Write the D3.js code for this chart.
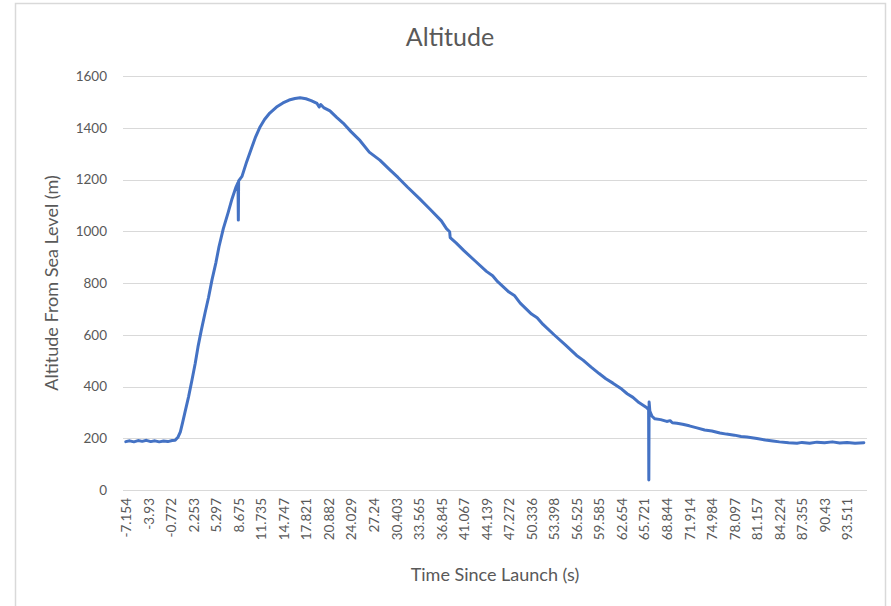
<!DOCTYPE html>
<html>
<head>
<meta charset="utf-8">
<script src="https://cdn.jsdelivr.net/npm/d3@7"></script>
<style>
  html, body { margin: 0; padding: 0; background: #ffffff; }
  svg { display: block; }
</style>
</head>
<body>
<svg id="chart" width="891" height="606"></svg>
<script>
// ---- Data ----
const tickLabels = ["-7.154","-3.93","-0.772","2.253","5.297","8.675","11.735","14.747","17.821","20.882","24.029","27.24","30.403","33.565","36.845","41.067","44.139","47.272","50.336","53.398","56.525","59.585","62.654","65.721","68.844","71.914","74.984","78.097","81.157","84.224","87.355","90.43","93.511"];
const yTicks = [0, 200, 400, 600, 800, 1000, 1200, 1400, 1600];

const timeSec = [
  -7.154, -6.6, -6.0, -5.4, -4.8, -4.2, -3.6, -3.0, -2.4, -1.8, -1.2, -0.6, -0.2,
  0.2, 0.5, 0.8, 1.1, 1.6, 2.06, 2.5, 2.87, 3.3, 3.82, 4.3, 4.76, 5.3, 5.75, 6.4, 7.1, 7.7, 8.3,
  8.6, 8.65, 8.69, 9.15, 9.8, 10.5, 11.0, 11.6, 12.2, 12.9, 13.8, 14.66, 15.5, 16.3, 17.0, 17.8,
  18.5, 19.3, 19.6, 19.8, 20.2, 21.06, 22.0, 22.9, 24.0, 25.3, 26.6, 28.1, 29.4, 30.64, 32.0,
  33.7, 35.2, 36.845, 37.8, 38.4, 38.5, 39.6, 41.067, 42.6, 44.139, 45.0, 45.7, 47.272, 48.0, 48.8, 50.336,
  51.1, 51.9, 53.398, 55.0, 56.525, 57.4, 58.5, 59.585, 60.5, 61.46, 62.654, 63.4, 64.19, 65.0, 65.721,
  66.09, 66.33, 66.36, 66.40, 66.5, 66.8, 67.2, 68.0, 68.844, 69.3, 69.6, 70.23, 71.0, 71.914, 72.95,
  74.0, 74.984, 76.1, 77.0, 78.097, 79.0, 79.8, 81.157, 82.3, 83.33, 84.224, 85.5, 86.66, 87.355,
  88.4, 89.4, 90.43, 91.5, 92.5, 93.511, 94.6, 95.8
];
const altitudeM = [
  187, 190, 186, 191, 188, 192, 187, 190, 186, 189, 187, 191, 192,
  205, 225, 260, 298, 360, 425, 490, 553, 615, 684, 745, 812, 880, 940, 1010, 1070, 1125, 1171,
  1188, 1043, 1195, 1212, 1270, 1326, 1365, 1403, 1432, 1457, 1480, 1496, 1507, 1513, 1516, 1512,
  1505, 1494, 1480, 1490, 1478, 1465, 1440, 1418, 1385, 1350, 1306, 1275, 1240, 1208, 1170,
  1125, 1085, 1040, 1010, 998, 975, 955, 925, 885, 845, 828, 805, 765, 752, 722, 680,
  666, 640, 600, 560, 520, 502, 475, 450, 430, 413, 390, 372, 358, 338, 325,
  318, 310, 39, 340, 305, 285, 275, 272, 265, 268, 260, 258, 254, 248, 240,
  232, 228, 220, 216, 212, 207, 205, 199, 193, 189, 186, 183, 181, 184,
  181, 185, 183, 186, 182, 184, 181, 183
];

// ---- Layout ----
const svg = d3.select("#chart");
const plotLeft = 123, plotRight = 867, plotTop = 76, plotBottom = 490;
const firstTickX = 125.8, tickStep = 22.54;
const font = "Lato, 'Open Sans', 'Liberation Sans', sans-serif";
const textColor = "#595959";

// outer frame
svg.append("rect")
  .attr("x", 15.5).attr("y", 3.5)
  .attr("width", 870).attr("height", 620)
  .attr("fill", "#ffffff")
  .attr("stroke", "#d9d9d9").attr("stroke-width", 1.5);

const tickTimes = tickLabels.map(Number);
// Category-style axis: evenly spaced labels, piecewise linear in time between them
const x = d3.scaleLinear()
  .domain(tickTimes)
  .range(tickTimes.map((d, i) => firstTickX + i * tickStep));
const y = d3.scaleLinear().domain([0, 1600]).range([plotBottom, plotTop]);

// gridlines
svg.append("g").selectAll("line").data(yTicks).join("line")
  .attr("x1", plotLeft).attr("x2", plotRight)
  .attr("y1", d => Math.round(y(d)) + 0.5).attr("y2", d => Math.round(y(d)) + 0.5)
  .attr("stroke", "#d9d9d9").attr("stroke-width", 1);

// y axis
const yAxis = svg.append("g")
  .attr("transform", `translate(${plotLeft},0)`)
  .call(d3.axisLeft(y).tickValues(yTicks).tickSize(0).tickPadding(16).tickFormat(d3.format("d")));
yAxis.select(".domain").remove();
yAxis.selectAll("text")
  .attr("fill", textColor).style("font-family", font).style("font-size", "13.5px");

// x axis
const xAxis = svg.append("g")
  .attr("transform", `translate(0,${plotBottom})`)
  .call(d3.axisBottom(x).tickValues(tickTimes).tickSize(0).tickFormat((d, i) => tickLabels[i]));
xAxis.select(".domain").remove();
xAxis.selectAll("text")
  .attr("transform", "rotate(-90)")
  .attr("x", -8).attr("y", 0).attr("dy", "0.35em")
  .style("text-anchor", "end")
  .attr("fill", textColor).style("font-family", font).style("font-size", "13.5px");

// line
const pts = timeSec.map((t, i) => [t, altitudeM[i]]);
svg.append("path")
  .datum(pts)
  .attr("fill", "none")
  .attr("stroke", "#4472c4")
  .attr("stroke-width", 3)
  .attr("stroke-linejoin", "round")
  .attr("stroke-linecap", "round")
  .attr("d", d3.line().x(d => x(d[0])).y(d => y(d[1])));

// title
svg.append("text")
  .attr("x", 450).attr("y", 46)
  .attr("text-anchor", "middle")
  .attr("fill", textColor)
  .style("font-family", font).style("font-size", "25px")
  .text("Altitude");

// axis titles
svg.append("text")
  .attr("x", 495).attr("y", 581)
  .attr("text-anchor", "middle")
  .attr("fill", textColor)
  .style("font-family", font).style("font-size", "18px")
  .text("Time Since Launch (s)");

svg.append("text")
  .attr("transform", `translate(58,${(plotTop + plotBottom) / 2}) rotate(-90)`)
  .attr("text-anchor", "middle")
  .attr("fill", textColor)
  .style("font-family", font).style("font-size", "18px")
  .text("Altitude From Sea Level (m)");
</script>
</body>
</html>
